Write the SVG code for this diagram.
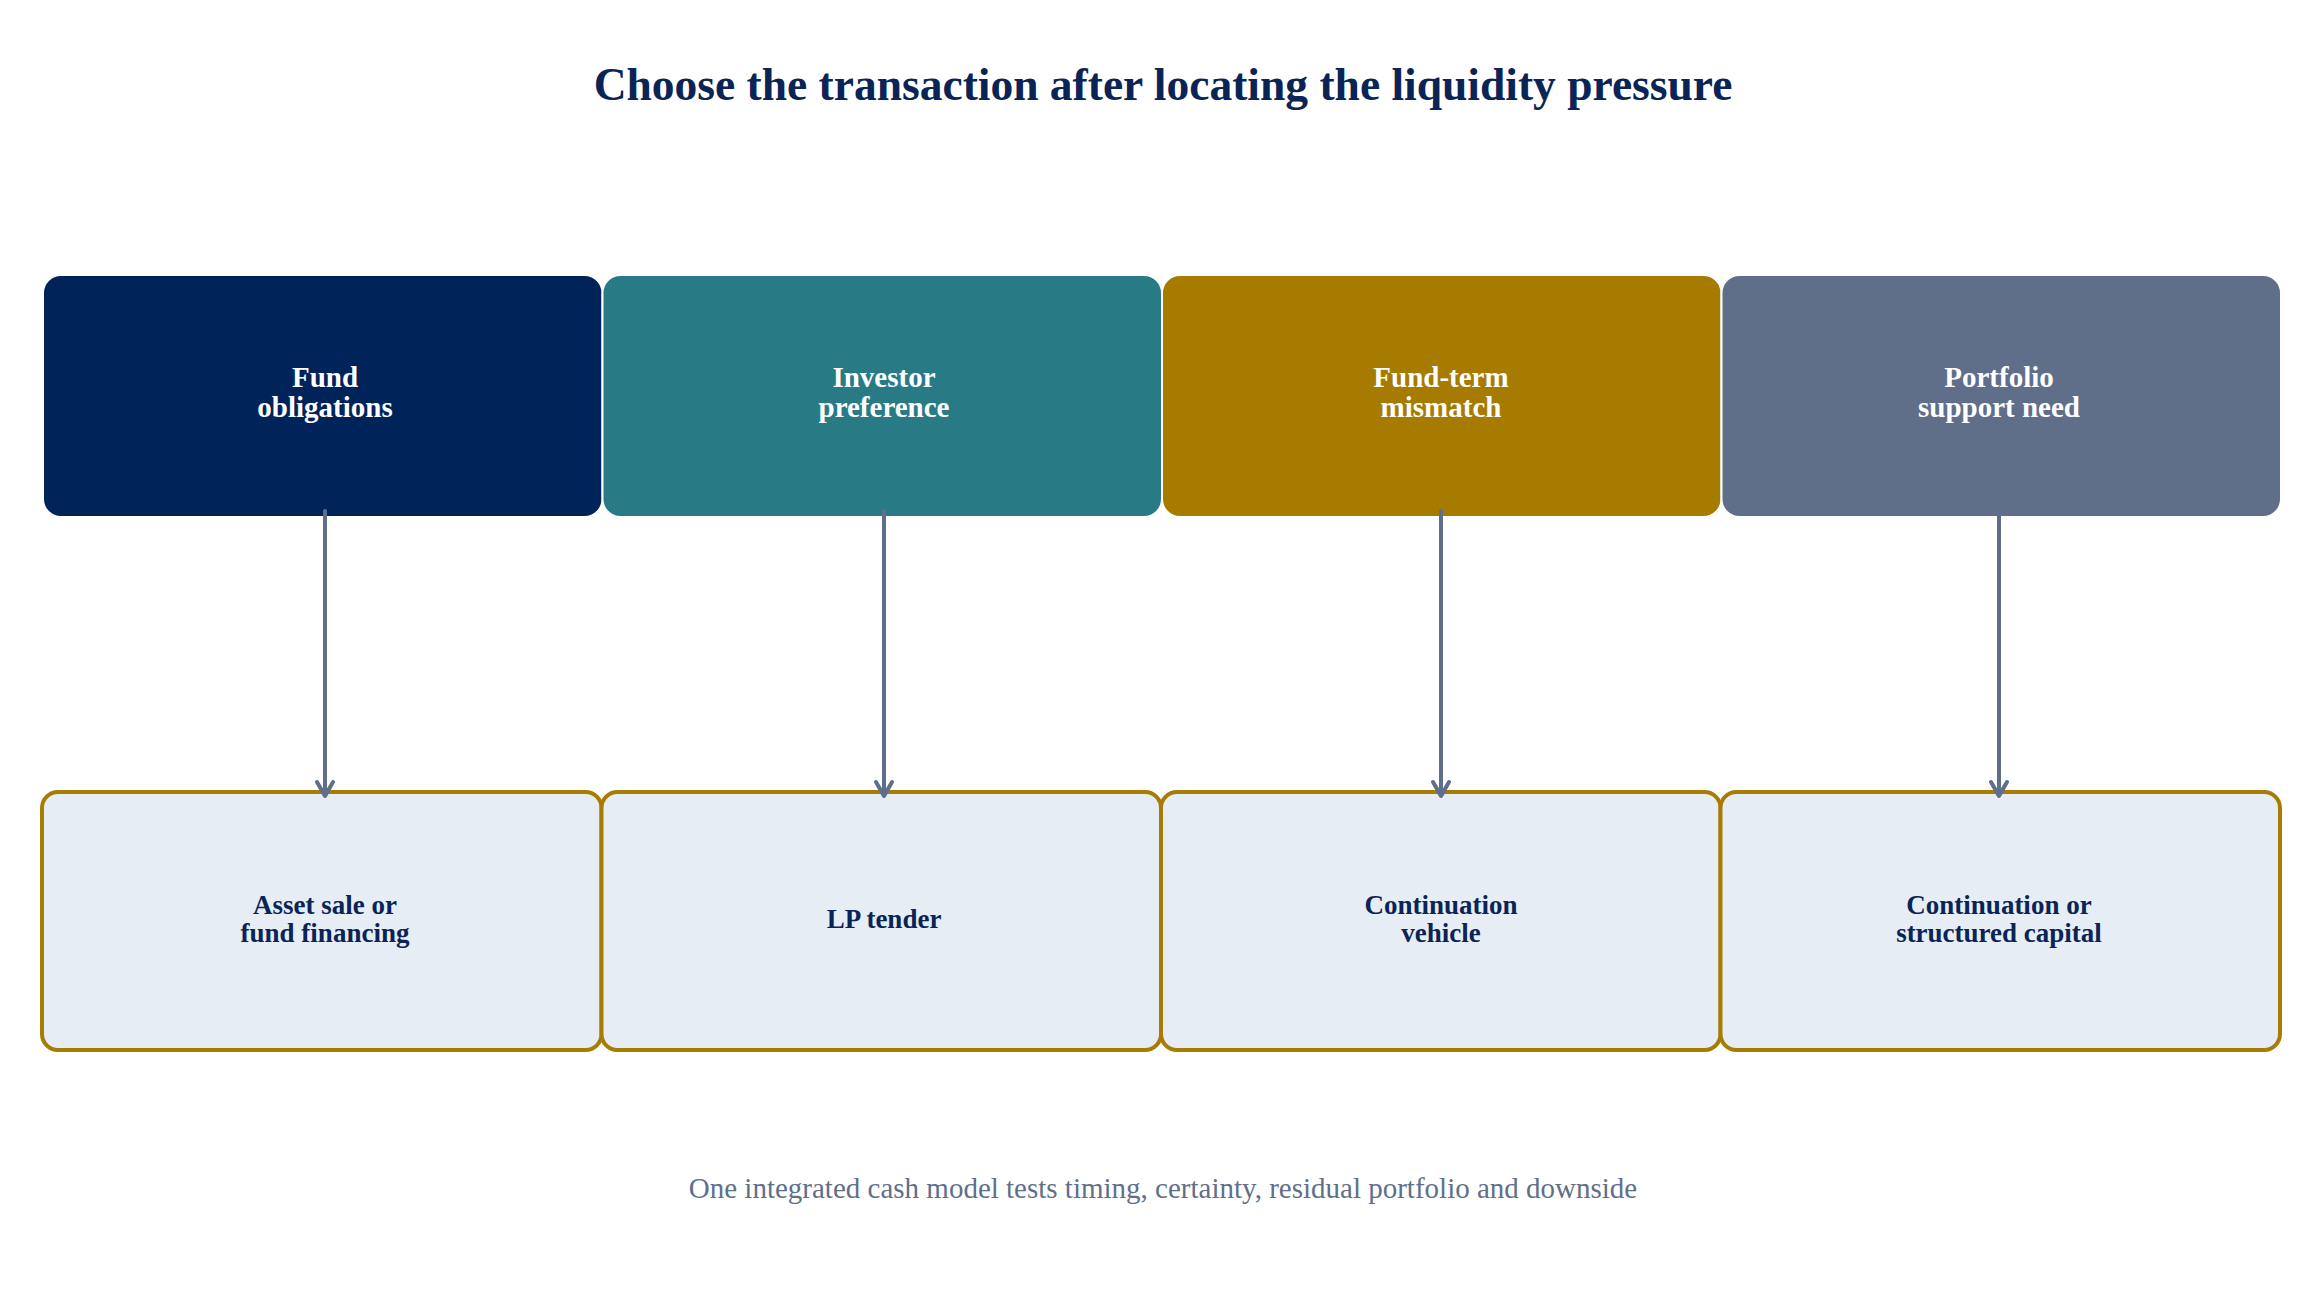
<svg xmlns="http://www.w3.org/2000/svg" width="2323" height="1311" viewBox="0 0 2323 1311">
  <defs>
    <style>
      .title { font-family: "Liberation Serif", "Times New Roman", serif; font-weight: bold; font-size: 45.5px; fill: #0B2456; text-anchor: middle; }
      .foot { font-family: "Liberation Serif", "Times New Roman", serif; font-size: 29px; fill: #5F6F8A; text-anchor: middle; }
      .top { stroke: #FFFFFF; stroke-width: 2; }
      .toptxt { font-family: "Liberation Serif", "Times New Roman", serif; font-weight: bold; font-size: 29px; fill: #FFFFFF; text-anchor: middle; }
      .bot { fill: #E6EDF5; stroke: #A87B05; stroke-width: 4; }
      .bottxt { font-family: "Liberation Serif", "Times New Roman", serif; font-weight: bold; font-size: 27px; fill: #0B2456; text-anchor: middle; }
      .conn { fill: none; stroke: #5F6F8A; stroke-width: 4; stroke-linecap: round; stroke-linejoin: round; }
    </style>
  </defs>
  <rect x="0" y="0" width="2323" height="1311" fill="#FFFFFF"/>
  <text class="title" x="1163" y="100">Choose the transaction after locating the liquidity pressure</text>

  <g id="top-fund-obligations">
    <rect class="top" x="43" y="275" width="559.5" height="242" rx="18" fill="#00245A"/>
    <text class="toptxt" x="325" y="387">Fund</text>
    <text class="toptxt" x="325" y="417">obligations</text>
  </g>
  <g id="top-investor-preference">
    <rect class="top" x="602.5" y="275" width="559.5" height="242" rx="18" fill="#287B85"/>
    <text class="toptxt" x="884" y="387">Investor</text>
    <text class="toptxt" x="884" y="417">preference</text>
  </g>
  <g id="top-fund-term-mismatch">
    <rect class="top" x="1162" y="275" width="559.5" height="242" rx="18" fill="#A67B00"/>
    <text class="toptxt" x="1441" y="387">Fund-term</text>
    <text class="toptxt" x="1441" y="417">mismatch</text>
  </g>
  <g id="top-portfolio-support-need">
    <rect class="top" x="1721.5" y="275" width="559.5" height="242" rx="18" fill="#5F6F8A"/>
    <text class="toptxt" x="1999" y="387">Portfolio</text>
    <text class="toptxt" x="1999" y="417">support need</text>
  </g>

  <g id="bot-asset-sale">
    <rect class="bot" x="42" y="792" width="559.5" height="258" rx="16"/>
    <text class="bottxt" x="325" y="913.5">Asset sale or</text>
    <text class="bottxt" x="325" y="942">fund financing</text>
  </g>
  <g id="bot-lp-tender">
    <rect class="bot" x="601.5" y="792" width="559.5" height="258" rx="16"/>
    <text class="bottxt" x="884" y="928">LP tender</text>
  </g>
  <g id="bot-continuation-vehicle">
    <rect class="bot" x="1161" y="792" width="559.5" height="258" rx="16"/>
    <text class="bottxt" x="1441" y="913.5">Continuation</text>
    <text class="bottxt" x="1441" y="942">vehicle</text>
  </g>
  <g id="bot-continuation-structured">
    <rect class="bot" x="1720.5" y="792" width="559.5" height="258" rx="16"/>
    <text class="bottxt" x="1999" y="913.5">Continuation or</text>
    <text class="bottxt" x="1999" y="942">structured capital</text>
  </g>

  <g id="connectors">
    <path class="conn" d="M325 511 V796 M317 782 L325 796 L333 782"/>
    <path class="conn" d="M884 511 V796 M876 782 L884 796 L892 782"/>
    <path class="conn" d="M1441 511 V796 M1433 782 L1441 796 L1449 782"/>
    <path class="conn" d="M1999 511 V796 M1991 782 L1999 796 L2007 782"/>
  </g>

  <text class="foot" x="1163" y="1198">One integrated cash model tests timing, certainty, residual portfolio and downside</text>
</svg>
